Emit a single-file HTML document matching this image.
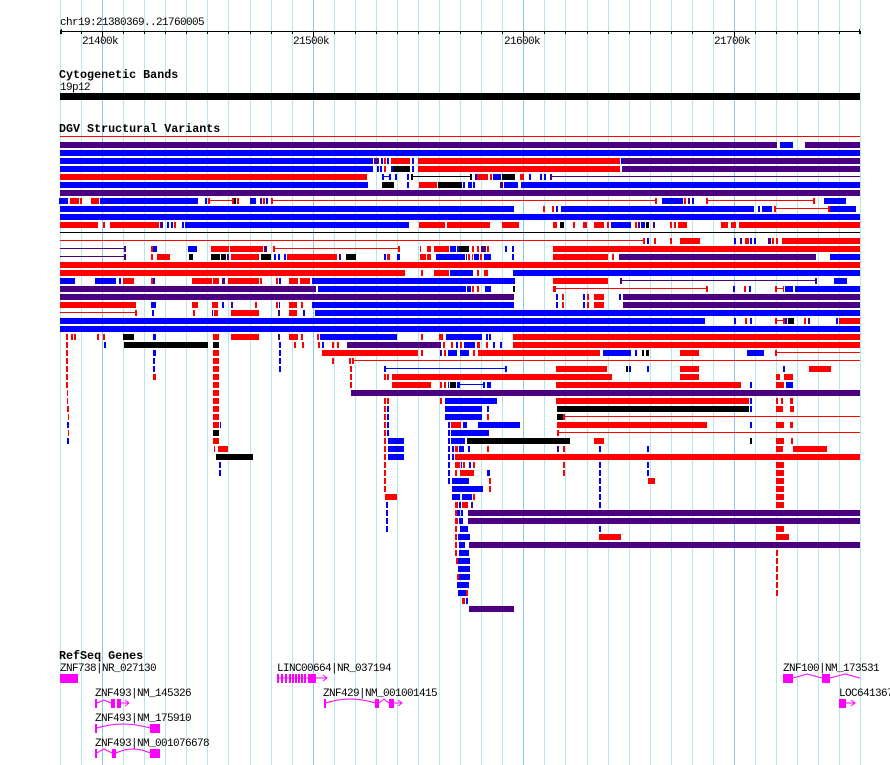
<!DOCTYPE html>
<html><head><meta charset="utf-8"><style>
html,body{margin:0;padding:0;background:#fff;}
svg{display:block;}
text{font-family:"Liberation Mono","DejaVu Sans Mono",monospace;font-size:11px;letter-spacing:-0.6px;fill:#000;}
.t{font-weight:bold;font-size:11.7px;letter-spacing:0;}
</style></head><body>
<svg id="s" width="890" height="765" xmlns="http://www.w3.org/2000/svg" shape-rendering="crispEdges">
<g id="grid"></g>
<g id="axis"></g>
<text x="60" y="25">chr19:21380369..21760005</text>
<text x="82" y="44">21400k</text>
<text x="293" y="44">21500k</text>
<text x="504" y="44">21600k</text>
<text x="714" y="44">21700k</text>
<text class="t" x="59" y="78">Cytogenetic Bands</text>
<text x="60" y="90">19p12</text>
<rect x="60" y="93" width="800" height="7" fill="#000"/>
<text class="t" x="59" y="132">DGV Structural Variants</text>
<rect x="60" y="136" width="800" height="1" fill="#f00"/>
<g id="dgv"></g>
<text class="t" x="59" y="659">RefSeq Genes</text>
<text x="60" y="671">ZNF738|NR_027130</text>
<text x="277" y="671">LINC00664|NR_037194</text>
<text x="783" y="671">ZNF100|NM_173531</text>
<text x="95" y="696">ZNF493|NM_145326</text>
<text x="323" y="696">ZNF429|NM_001001415</text>
<text x="839" y="696">LOC641367</text>
<text x="95" y="721">ZNF493|NM_175910</text>
<text x="95" y="746">ZNF493|NM_001076678</text>
<g fill="#f0f" stroke="none">
<rect x="60" y="674" width="18" height="9"/>
<rect x="277" y="674" width="2" height="9"/><rect x="281" y="674" width="2" height="9"/><rect x="285" y="674" width="2" height="9"/><rect x="289" y="674" width="2" height="9"/><rect x="292" y="674" width="2" height="9"/><rect x="295" y="674" width="2" height="9"/><rect x="298" y="674" width="2" height="9"/><rect x="301" y="674" width="2" height="9"/><rect x="304" y="674" width="2" height="9"/><rect x="308" y="674" width="8" height="9"/>
<rect x="95" y="699" width="2" height="9"/><rect x="111" y="699" width="4" height="9"/><rect x="117" y="699" width="4" height="9"/>
<rect x="324" y="699" width="2" height="9"/><rect x="375" y="699" width="4" height="9"/><rect x="389" y="699" width="5" height="9"/>
<rect x="95" y="724" width="2" height="9"/><rect x="150" y="724" width="10" height="9"/>
<rect x="95" y="749" width="2" height="9"/><rect x="112" y="749" width="4" height="9"/><rect x="150" y="749" width="10" height="9"/>
<rect x="783" y="674" width="10" height="9"/><rect x="822" y="674" width="8" height="9"/>
<rect x="839" y="699" width="7" height="9"/>
</g>
<g fill="none" stroke="#f0f" stroke-width="1" shape-rendering="auto">
<path d="M279 678 L316 678 M316 678 L327 678 M323 675 L327 678 L323 681"/>
<path d="M97 703 L104 700 L111 703 M121 703 L129 703 M125 700 L129 703 L125 706"/>
<path d="M326 703 Q350 695 375 703 M379 703 L384 699 L389 703 M394 703 L402 703 M398 700 L402 703 L398 706"/>
<path d="M97 728 Q123 720 150 728"/>
<path d="M97 753 L104 749 L112 753 M116 753 Q133 745 150 753"/>
<path d="M793 678 L807 674 L822 678 M830 678 L845 674 L860 678"/>
<path d="M846 703 L855 703 M851 700 L855 703 L851 706"/>
</g>
</svg>
<script>
(function(){
var NS="http://www.w3.org/2000/svg";
function r(g,x,y,w,h,c){var e=document.createElementNS(NS,"rect");e.setAttribute("x",x);e.setAttribute("y",y);e.setAttribute("width",w);e.setAttribute("height",h);e.setAttribute("fill",c);g.appendChild(e);}
var grid=document.getElementById("grid"),axis=document.getElementById("axis");
for(var i=0;i<=38;i++){var x=Math.round(60+21.06*i);var maj=(i%10==2);
r(grid,x,0,1,765,maj?"#8cc8e8":"#b4e8f0");
r(axis,x,31,1,maj?6:3,"#000");}
r(axis,60,31,800,1,"#000");
r(axis,60,30,1,3,"#000");r(axis,61,29,1,5,"#000");
r(axis,859,29,1,5,"#000");
var C={R:"#ff0000",B:"#0000ff",P:"#4b0082",K:"#000000"};
var rows=[
"P60-777 B780-793 P805-860",
"B60-860",
"B60-373 P374-379 B381-383 R384-386 B387-389 R391-410 B412-414 R418-620 B621-623 P623-860",
"B60-373 B377-379 B380-382 R384-386 B391-393 K393-410 B412-414 R418-620 P622-860",
"R60-367 B382-384 b384-389 B389-391 B395-397 B407-409 K411-413 k413-471 K470-472 B475-477 R477-488 R490-492 B493-501 K502-515 R520-524 B529-531 B540-542 B544-546 P550-552 p552-860",
"B60-368 K382-394 B407-409 R419-437 K438-462 B463-465 B468-472 B473-475 P500-503 B504-518 B521-860",
"P60-860",
"B59-68 R70-79 R80-82 R91-99 B100-198 B205-207 R208-210 r210-232 R232-234 K234-236 R237-239 B250-256 P260-262 R263-265 B266-268 R271-273 r273-655 R655-657 B662-683 R684-686 P688-690 B692-694 R706-708 r708-813 R813-815 B824-846",
"B60-514 R543-545 R552-554 B556-558 B561-754 B758-760 B762-772 R774-776 r776-828 R828-830 B830-856",
"B60-860",
"R60-98 R103-105 R110-159 P160-163 B167-169 B171-173 R174-176 B182-184 B185-409 R419-445 R447-490 R502-519 R553-557 K560-564 R573-575 R583-587 R594-604 R607-609 B611-631 R635-637 P638-640 B641-645 K646-649 P653-655 R670-672 R674-676 R678-687 R721-728 R731-736 R739-860",
"k60-860",
"r60-643 R643-645 B647-649 R654-656 R670-672 R680-700 B734-736 P740-742 R745-749 B750-752 B754-756 P768-771 R772-774 R776-778 R782-860",
"p60-124 P124-126 R151-153 B153-157 B188-197 R211-229 R230-263 P264-267 R273-275 r275-398 R398-400 R420-421 R427-431 R434-449 B450-456 B457-459 K459-469 R472-474 R477-479 P481-486 R487-489 B505-507 B512-514 R553-860",
"p60-124 P124-126 R151-153 R157-170 K189-193 K211-220 K221-226 P227-229 R231-259 K261-271 B274-276 B278-280 B284-286 R287-337 P339-341 K346-356 B384-386 R387-390 B397-400 R420-426 R427-431 B436-465 P466-467 R468-470 R472-473 B474-479 R480-482 B484-491 B512-514 R553-608 R612-614 P619-816 B830-860",
"R60-860",
"R60-405 R421-423 R434-449 B450-473 R477-479 R484-488 B513-860",
"B60-75 B95-116 B119-121 R123-134 R151-153 B153-155 R192-212 R213-219 P222-225 R228-259 R260-262 R276-278 B279-281 R289-298 R300-310 B312-515 R553-608 P620-622 p622-815 P815-817 B834-847",
"P60-316 B318-466 B467-471 R472-474 R477-479 B485-491 K513-515 R553-556 r556-706 R706-708 B733-735 R744-746 B749-751 R775-777 r777-783 R783-784 B785-793 B795-860",
"P60-514 B556-558 R562-564 B583-585 R587-589 R594-604 B619-621 P623-860",
"R60-136 B151-156 R192-198 R212-218 B222-224 P231-233 R255-257 R276-278 B279-280 R289-297 R301-303 B312-514 B556-558 R562-564 B583-585 R587-589 R594-604 P623-860",
"r60-135 R135-137 B152-154 R193-195 B212-213 R214-218 R231-259 P278-280 R289-297 B303-305 B315-860",
"B60-705 B734-736 R745-747 B750-752 R775-777 r777-783 R783-785 B785-787 K788-794 R804-806 P808-810 B836-838 R839-860",
"B60-860",
"R66-68 R71-73 R74-76 R97-99 R103-105 K123-134 B153-156 R213-219 R231-259 P278-280 R289-298 R301-303 R317-319 B320-397 R421-423 R439-443 B446-482 B486-488 B489-491 R513-860",
"R66-68 B104-106 K124-208 K213-219 B279-281 R294-296 R302-304 R318-320 B322-324 R332-334 R337-339 P347-441 R443-445 R451-453 B456-458 R460-462 B464-475 R477-480 R486-488 B493-495 B500-502 R513-860",
"R66-68 B153-156 R213-219 B279-281 R322-418 R421-423 P440-442 R444-446 B448-457 B460-469 R473-475 R478-600 B603-631 B635-637 K642-644 K646-649 R680-699 B747-764 R775-777 r777-860",
"R66-68 B153-155 R213-219 B279-281 R332-334 R349-351 R352-354 r354-860",
"R66-68 B153-155 R213-219 B279-281 R350-352 B384-386 b386-505 B505-507 R556-607 K626-628 B629-631 B647-649 R680-699 B783-785 R809-831",
"R66-68 R153-156 R213-219 R350-352 R384-386 R387-389 R392-612 R680-699 R776-780 R784-793",
"R66-68 R213-219 R350-352 R392-431 R440-442 R444-446 B448-449 K450-456 B457-460 b460-483 B483-485 B487-491 R556-741 B750-752 R776-784 B786-793",
"R67-68 R213-219 P351-860",
"R67-68 R213-219 R384-386 R387-389 R440-442 B445-497 R556-749 B750-752 R776-778 R781-783 R790-793",
"R67-69 R213-219 R384-386 B387-389 B445-482 B487-489 K557-749 B750-752 R776-783 R790-794",
"R68-69 R213-219 R384-386 B387-389 B445-482 R487-489 K557-563 R563-565 r565-860",
"B67-69 R213-219 B220-221 R384-386 B387-389 B448-450 R451-461 B463-467 B478-520 R557-707 B750-752 R776-784 R790-793",
"R68-69 K213-219 R384-386 B387-389 B448-450 B451-489 R557-559 r559-860",
"B67-69 R213-219 R384-386 B388-404 B448-450 B451-465 K467-570 R594-604 K750-752 R776-784 R791-793",
"R214-215 R218-228 R384-386 B388-404 B448-450 B452-454 R455-458 B459-464 B468-470 R487-489 P557-559 R563-565 B599-601 B647-649 R776-783 R793-827",
"K216-253 R384-386 B388-404 B448-450 B452-454 R455-860",
"B219-221 R384-386 B448-450 R455-460 B461-462 R463-465 B469-471 R473-475 R563-565 B599-601 B647-649 R776-784",
"B219-221 R384-386 B448-450 R455-457 R460-474 B487-490 R563-565 B599-601 B647-649 R776-784",
"R384-386 B448-450 B452-469 R489-491 B599-601 R648-655 R776-784",
"R384-386 B452-483 R489-491 B599-601 R776-784",
"R385-397 B452-460 B462-472 R473-475 B599-601 R776-784",
"B386-388 R455-458 B459-461 R462-468 P471-473 B599-601 R776-784",
"B386-388 R455-457 B457-460 B461-463 P468-860",
"B386-388 R455-458 B459-463 P468-860",
"B386-388 R455-457 B460-468 B599-601 R776-784",
"R455-457 B458-470 R599-621 R776-789",
"R455-457 B459-465 P469-860",
"R455-457 B459-469 R776-778",
"R456-458 B458-470 R776-778",
"B458-470 R776-778",
"R457-459 B459-470 R776-778",
"B457-469 R776-778",
"B458-466 R466-468 R776-778",
"R462-465 B466-468",
"P469-514"
];
var g=document.getElementById("dgv");
rows.forEach(function(s,n){var y=142+8*n;
s.split(" ").forEach(function(t){var m=t.match(/^([A-Za-z])(\d+)-(\d+)$/);if(!m)return;
var c=m[1],a=+m[2],b=+m[3];
if(c==c.toLowerCase()){r(g,a,y+2,b-a,1,C[c.toUpperCase()]);}
else r(g,a,y,Math.max(1,b-a),6,C[c]);});});
})();
</script>
</body></html>
